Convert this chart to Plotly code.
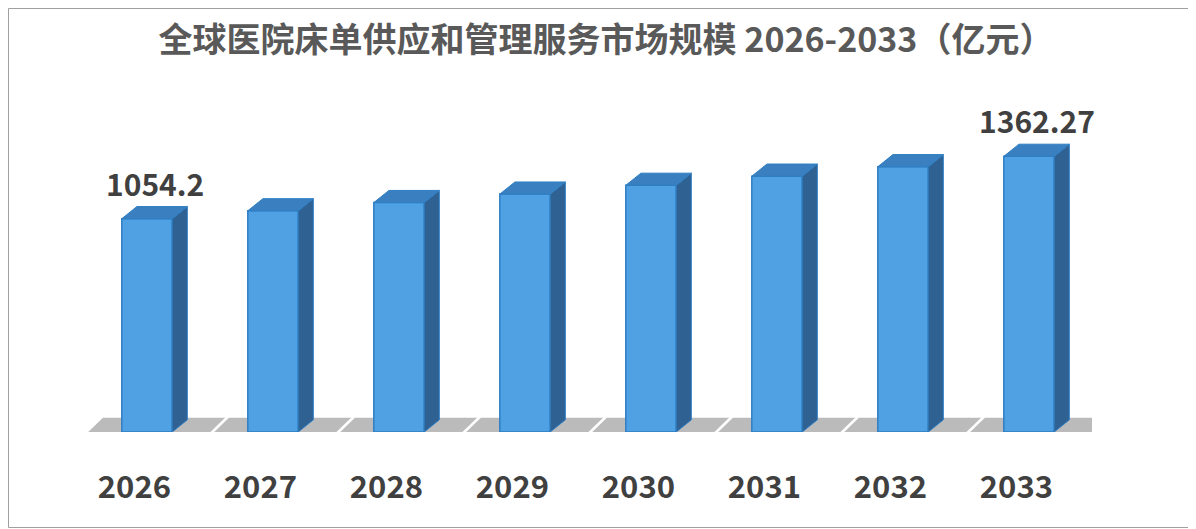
import plotly.graph_objects as go

years = ["2026", "2027", "2028", "2029", "2030", "2031", "2032", "2033"]
values = [1054.2, 1093.2, 1133.7, 1175.6, 1219.1, 1264.2, 1311.0, 1362.27]
labels = ["1054.2", "", "", "", "", "", "", "1362.27"]

bw = 0.4      # front face width (x units)
dx = 0.12     # 3d depth, x units
dy = 60       # 3d depth, value units

xs = list(range(len(years)))
fig = go.Figure()

# front faces
fig.add_trace(go.Bar(x=xs, y=values, width=bw,
                     marker=dict(color="#4fa1e3", line=dict(color="#2e7fc4", width=1.5)),
                     showlegend=False, hoverinfo="skip"))

# side and top faces
for x, v in zip(xs, values):
    r = x + bw / 2
    l = x - bw / 2
    fig.add_trace(go.Scatter(x=[r, r + dx, r + dx, r, r], y=[0, dy, v + dy, v, 0],
                             fill="toself", mode="lines", line=dict(color="#2e7fc4", width=1),
                             fillcolor="#2f6192", hoverinfo="skip", showlegend=False))
    fig.add_trace(go.Scatter(x=[l, r, r + dx, l + dx, l], y=[v, v, v + dy, v + dy, v],
                             fill="toself", mode="lines", line=dict(color="#2e7fc4", width=1),
                             fillcolor="#3a7fbf", hoverinfo="skip", showlegend=False))

for x, v, t in zip(xs, values, labels):
    if t:
        fig.add_annotation(x=x + dx / 2, y=v + dy, text="<b>%s</b>" % t, showarrow=False, yshift=24,
                           font=dict(size=30, color="#404040", family="Noto Sans CJK SC"))

# floor shadows, drawn below the bars
shapes = []
for x in xs:
    shapes.append(dict(type="path", xref="x", yref="y", layer="below", line=dict(width=0),
                       fillcolor="rgba(60,60,60,0.35)",
                       path="M %f,-50 L %f,-50 L %f,70 L %f,70 Z" % (
                           x - bw / 2 - 0.35, x + bw / 2 + dx + 0.1,
                           x + bw / 2 + dx + 0.3, x - bw / 2 - 0.15)))
shapes.append(dict(type="rect", xref="paper", yref="paper", x0=-75.5 / 1008, x1=1110.5 / 1008,
                   y0=-95.5 / 344, y1=1 + 79.5 / 344, line=dict(color="#a0a0a0", width=1)))

fig.update_layout(
    width=1196, height=529,
    margin=dict(l=76, r=112, t=80, b=105, autoexpand=False),
    paper_bgcolor="white", plot_bgcolor="white",
    title=dict(text="<b>全球医院床单供应和管理服务市场规模 2026-2033（亿元）</b>",
               x=0.5, y=0.94, xanchor="center", yanchor="middle",
               font=dict(size=34, color="#595959", family="Noto Sans CJK SC")),
    xaxis=dict(range=[-0.5, 7.5], tickvals=[x - 0.1 for x in xs], automargin=False,
               ticktext=["<b>%s</b>" % y for y in years], showgrid=False, zeroline=False,
               showline=False, ticks="", ticklen=0, ticklabelstandoff=34,
               tickfont=dict(size=31, color="#404040", family="Noto Sans CJK SC")),
    yaxis=dict(range=[0, 1700], visible=False, automargin=False),
    shapes=shapes,
)

fig.write_html("out.html")
